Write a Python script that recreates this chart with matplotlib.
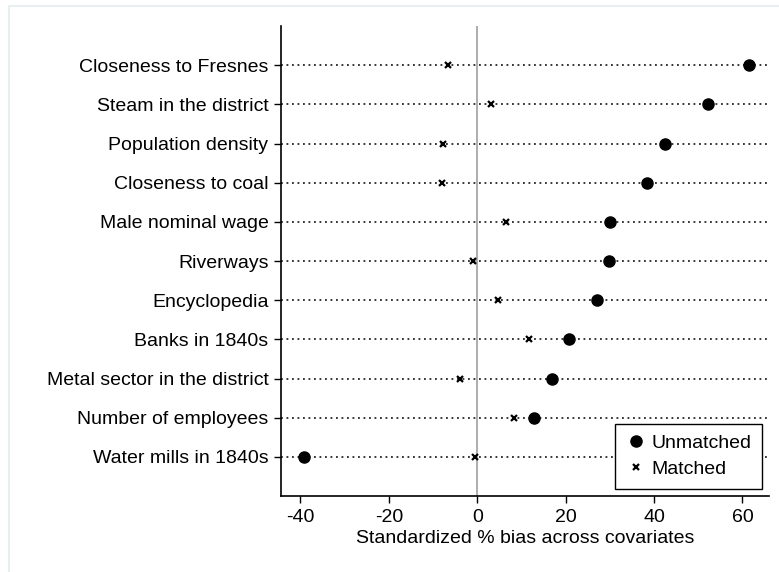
import matplotlib
matplotlib.use("Agg")
import matplotlib.pyplot as plt
from matplotlib.patches import Rectangle
import numpy as np

plt.rcParams['font.family'] = ['Liberation Sans', 'DejaVu Sans']

covariates = ["Closeness to Fresnes", "Steam in the district", "Population density",
              "Closeness to coal", "Male nominal wage", "Riverways", "Encyclopedia",
              "Banks in 1840s", "Metal sector in the district", "Number of employees",
              "Water mills in 1840s"]
unmatched = [61.5, 52.3, 42.5, 38.5, 30.0, 29.8, 27.2, 20.8, 16.9, 12.8, -39.2]
matched = [-6.6, 3.1, -7.8, -8.0, 6.4, -1.0, 4.6, 11.8, -3.8, 8.2, -0.6]
xticks = [-40, -20, 0, 20, 40, 60]

fs = 14
fig = plt.figure(figsize=(7.79, 5.72), dpi=100)
# light outer frame like the Stata graph region
fig.patches.append(Rectangle((9 / 779, -0.1), 1.2, 1 - 6 / 572 + 0.1, transform=fig.transFigure,
                             fill=False, edgecolor='#e4ecee', linewidth=1.2))
ax = fig.add_axes([281 / 779, 1 - 496 / 572, (769 - 281) / 779, (496 - 26) / 572])

n = len(covariates)
ypos = np.arange(n, 0, -1)
for y in ypos:
    ax.axhline(y, color='black', linestyle=(0, (1.2, 2.4)), linewidth=1.1, zorder=1)
ax.axvline(0, color='#a0a0a0', linewidth=1.2, zorder=1)

ax.plot(unmatched, ypos, 'o', color='black', markersize=8, linestyle='none',
        label='Unmatched', zorder=3)
ax.plot(matched, ypos, 'x', color='black', markersize=4.5, markeredgewidth=1.6,
        linestyle='none', label='Matched', zorder=3)

ax.set_xlim(-44.4, 66)
ax.set_ylim(0, n + 1)
ax.set_yticks(ypos)
ax.set_yticklabels(covariates, fontsize=fs)
ax.set_xticks(xticks)
ax.set_xticklabels([str(t) for t in xticks], fontsize=fs)
ax.tick_params(axis='both', length=5, width=1, color='black', pad=4)
ax.spines['top'].set_visible(False)
ax.spines['right'].set_visible(False)
ax.spines['left'].set_linewidth(1.2)
ax.spines['bottom'].set_linewidth(1.2)
ax.set_xlabel("Standardized % bias across covariates", fontsize=fs, labelpad=3)

leg = ax.legend(loc='lower right', bbox_to_anchor=(0.9857, 0.0149), borderaxespad=0,
                fontsize=fs, frameon=True, fancybox=False, edgecolor='black', framealpha=1,
                handletextpad=0.3, handlelength=1.0, borderpad=0.55, labelspacing=0.45)
leg.get_frame().set_linewidth(1.0)

fig.savefig('out.png', dpi=100, facecolor='white')
